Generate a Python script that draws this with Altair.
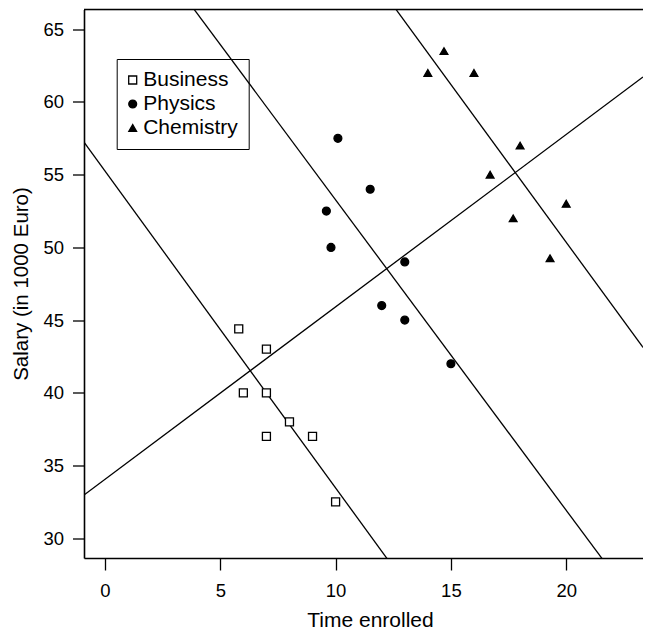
import altair as alt
import pandas as pd

# ---- data ----
majors = ["Business", "Physics", "Chemistry"]

business_x = [5.8, 7.0, 6.0, 7.0, 8.0, 7.0, 9.0, 10.0]
business_y = [44.4, 43.0, 40.0, 40.0, 38.0, 37.0, 37.0, 32.5]

physics_x = [10.1, 11.5, 9.6, 9.8, 13.0, 12.0, 13.0, 15.0]
physics_y = [57.5, 54.0, 52.5, 50.0, 49.0, 46.0, 45.0, 42.0]

chemistry_x = [14.7, 14.0, 16.0, 18.0, 16.7, 20.0, 17.7, 19.3]
chemistry_y = [63.5, 62.0, 62.0, 57.0, 55.0, 53.0, 52.0, 49.25]

# straight lines: y = intercept + slope * x
line_names = ["rising", "falling1", "falling2", "falling3"]
line_intercepts = [34.05, 55.25, 74.62, 93.75]
line_slopes = [1.186, -2.179, -2.135, -2.17]

x_ticks = [0, 5, 10, 15, 20]
y_ticks = [30, 35, 40, 45, 50, 55, 60, 65]

x_domain = [-0.91, 23.33]
y_domain = [28.64, 66.36]

# ---- tables ----
rows = []
for name, xs, ys in [("Business", business_x, business_y),
                     ("Physics", physics_x, physics_y),
                     ("Chemistry", chemistry_x, chemistry_y)]:
    for x, y in zip(xs, ys):
        rows.append({"major": name, "time": x, "salary": y})
points = pd.DataFrame(rows)

lrows = []
for name, b, m in zip(line_names, line_intercepts, line_slopes):
    for x in x_domain:
        lrows.append({"line": name, "time": x, "salary": b + m * x})
lines = pd.DataFrame(lrows)

FONT = "Liberation Sans"
W, H = 559, 548.5

xscale = alt.Scale(domain=x_domain, nice=False, zero=False)
yscale = alt.Scale(domain=y_domain, nice=False, zero=False)

xaxis = alt.Axis(values=x_ticks, title="Time enrolled", grid=False,
                 domain=True, domainColor="black", domainWidth=1.6,
                 tickSize=12, tickColor="black", tickWidth=1.3,
                 labelFontSize=18.5, labelPadding=11.5, labelColor="black",
                 labelFont=FONT, titleFont=FONT, titleFontSize=21,
                 titleFontWeight="normal", titleColor="black",
                 titleX=286, titleY=68, titleBaseline="alphabetic",
                 titleAlign="center")
yaxis = alt.Axis(values=y_ticks, title="Salary (in 1000 Euro)", grid=False,
                 domain=True, domainColor="black", domainWidth=1.6,
                 tickSize=11.5, tickColor="black", tickWidth=1.3,
                 labelFontSize=18.5, labelPadding=9, labelColor="black",
                 labelFont=FONT, titleFont=FONT, titleFontSize=20.5,
                 titleFontWeight="normal", titleColor="black",
                 titleAngle=270, titleX=-57, titleY=274,
                 titleBaseline="alphabetic", titleAlign="center")

line_layer = alt.Chart(lines).mark_line(clip=True, color="black", strokeWidth=1.3).encode(
    x=alt.X("time:Q", scale=xscale, axis=xaxis),
    y=alt.Y("salary:Q", scale=yscale, axis=yaxis),
    detail="line:N",
)

# top edge of the frame (the right edge lies outside the picture)
frame_top = alt.Chart(pd.DataFrame({"k": [0]})).mark_rule(
    color="black", strokeWidth=1.6).encode(
    x=alt.value(0), x2=alt.value(W), y=alt.value(0))

legend = alt.Legend(title=None, orient="none", legendX=32.7, legendY=49.5,
                    strokeColor="black", padding=10.5, labelFont=FONT,
                    labelFontSize=21, labelColor="black", rowPadding=2,
                    labelOffset=0, symbolOffset=-5, symbolStrokeWidth=1.3)

point_layer = alt.Chart(points).mark_point(opacity=1, strokeWidth=1.3, clip=True).encode(
    x=alt.X("time:Q", scale=xscale),
    y=alt.Y("salary:Q", scale=yscale),
    shape=alt.Shape("major:N", scale=alt.Scale(domain=majors,
                    range=["square", "circle", "triangle-up"]), legend=legend),
    fill=alt.Fill("major:N", scale=alt.Scale(domain=majors,
                  range=["white", "black", "black"]), legend=legend),
    stroke=alt.Stroke("major:N", scale=alt.Scale(domain=majors,
                      range=["black", "black", "black"]), legend=legend),
    size=alt.Size("major:N", scale=alt.Scale(domain=majors, range=[64, 60, 125]),
                  legend=legend),
)

chart = alt.layer(line_layer, frame_top, point_layer).properties(
    width=W, height=H,
    autosize=alt.AutoSizeParams(type="none"),
    padding={"left": 76, "top": 1.5, "right": 0, "bottom": 74},
).configure_view(strokeWidth=0).configure(background="white")

chart.save("out.html", embed_options={"renderer": "svg", "actions": False})
